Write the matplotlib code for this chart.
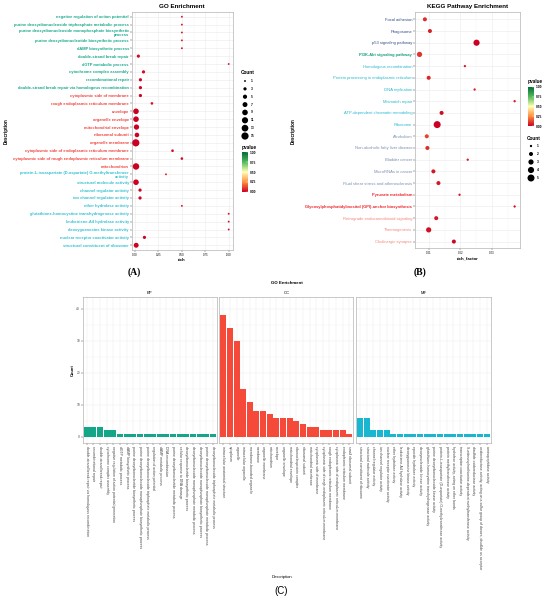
import numpy as np
import matplotlib
matplotlib.use('Agg')
import matplotlib.pyplot as plt
from matplotlib.colors import LinearSegmentedColormap

plt.rcParams['font.family'] = ['Liberation Sans', 'DejaVu Sans']

W, H = 550, 601

# ---------------- panel A: GO enrichment bubble data ----------------
go_terms = [
    'negative regulation of action potential',
    'purine deoxyribonucleoside triphosphate metabolic process',
    'purine deoxyribonucleoside monophosphate biosynthetic\nprocess',
    'purine deoxyribonucleotide biosynthetic process',
    'dAMP biosynthetic process',
    'double-strand break repair',
    'dGTP metabolic process',
    'cytochrome complex assembly',
    'recombinational repair',
    'double-strand break repair via homologous recombination',
    'cytoplasmic side of membrane',
    'rough endoplasmic reticulum membrane',
    'envelope',
    'organelle envelope',
    'mitochondrial envelope',
    'ribosomal subunit',
    'organelle membrane',
    'cytoplasmic side of endoplasmic reticulum membrane',
    'cytoplasmic side of rough endoplasmic reticulum membrane',
    'mitochondrion',
    'protein-L-isoaspartate (D-aspartate) O-methyltransferase\nactivity',
    'structural molecule activity',
    'channel regulator activity',
    'ion channel regulator activity',
    'ether hydrolase activity',
    'glutathione-homocystine transhydrogenase activity',
    'leukotriene-A4 hydrolase activity',
    'deoxyguanosine kinase activity',
    'nuclear receptor coactivator activity',
    'structural constituent of ribosome',
]
go_class = ['BP'] * 10 + ['CC'] * 10 + ['MF'] * 10
go_rich = [0.5, 0.5, 0.5, 0.5, 0.5, 0.035, 1.0, 0.09, 0.057, 0.057,
           0.057, 0.18, 0.01, 0.01, 0.015, 0.02, 0.008, 0.40, 0.5, 0.01,
           0.33, 0.01, 0.053, 0.053, 0.5, 1.0, 1.0, 1.0, 0.10, 0.012]
go_count = [1, 1, 1, 1, 1, 3, 1, 3, 3, 3,
            3, 2, 9, 9, 8, 6, 15, 2, 2, 12,
            1, 9, 3, 3, 1, 1, 1, 1, 3, 7]
go_pvalue = [0.04, 0.04, 0.04, 0.04, 0.04, 0.02, 0.04, 0.02, 0.01, 0.01,
             0.01, 0.03, 0.002, 0.002, 0.003, 0.005, 0.001, 0.02, 0.02, 0.001,
             0.05, 0.002, 0.01, 0.01, 0.04, 0.03, 0.03, 0.03, 0.01, 0.004]
go_size_breaks = [1, 3, 5, 7, 9, 11, 13, 15]

# ---------------- panel B: KEGG bubble data ----------------
kegg_terms = [
    'Focal adhesion', 'Phagosome', 'p53 signaling pathway',
    'PI3K-Akt signaling pathway', 'Homologous recombination',
    'Protein processing in endoplasmic reticulum', 'DNA replication',
    'Mismatch repair', 'ATP-dependent chromatin remodeling', 'Ribosome',
    'Alcoholism', 'Non-alcoholic fatty liver disease', 'Bladder cancer',
    'MicroRNAs in cancer', 'Fluid shear stress and atherosclerosis',
    'Pyruvate metabolism',
    'Glycosylphosphatidylinositol (GPI)-anchor biosynthesis',
    'Retrograde endocannabinoid signaling', 'Thermogenesis',
    'Cholinergic synapse',
]
kegg_group = (['cell'] * 3 + ['env'] * 1 + ['gen'] * 6 + ['dis'] * 5
              + ['met'] * 2 + ['org'] * 3)
kegg_rich = [0.0087, 0.0103, 0.0251, 0.0070, 0.0214, 0.0099, 0.0245, 0.0372,
             0.0140, 0.0126, 0.0093, 0.0095, 0.0223, 0.0114, 0.0130, 0.0197,
             0.0372, 0.0123, 0.0099, 0.0179]
kegg_count = [2, 2, 4, 3, 1, 2, 1, 1, 2, 5, 2, 2, 1, 2, 2, 1, 1, 2, 3, 2]
kegg_pvalue = [0.08, 0.06, 0.003, 0.09, 0.05, 0.07, 0.05, 0.04, 0.02, 0.001,
               0.12, 0.08, 0.05, 0.04, 0.04, 0.05, 0.03, 0.04, 0.03, 0.01]
kegg_size_breaks = [1, 2, 3, 4, 5]

# ---------------- panel C: GO bar data ----------------
bp_terms = [
    'double-strand break repair via homologous recombination',
    'recombinational repair',
    'double-strand break repair',
    'cytochrome complex assembly',
    'negative regulation of action potential generation',
    'dGTP metabolic process',
    'dAMP biosynthetic process',
    'purine deoxyribonucleotide biosynthetic process',
    'purine deoxyribonucleoside monophosphate biosynthetic process',
    'purine deoxyribonucleoside triphosphate metabolic process',
    'regulation of action potential',
    'dAMP metabolic process',
    'DNA recombination',
    'purine deoxyribonucleotide metabolic process',
    'cellular response to DNA damage',
    'deoxyribonucleotide biosynthetic process',
    'deoxyribonucleoside monophosphate metabolic process',
    'deoxyribonucleoside monophosphate biosynthetic process',
    'purine deoxyribonucleoside monophosphate metabolic process',
    'deoxyribonucleoside triphosphate metabolic process',
]
bp_count = [3, 3, 3, 2, 2, 1, 1, 1, 1, 1, 1, 1, 1, 1, 1, 1, 1, 1, 1, 1]

cc_terms = [
    'intracellular anatomical structure',
    'cytoplasm',
    'organelle',
    'intracellular organelle',
    'membrane-bounded organelle',
    'membrane',
    'organelle membrane',
    'mitochondrion',
    'envelope',
    'organelle envelope',
    'mitochondrial envelope',
    'ribonucleoprotein complex',
    'ribosomal subunit',
    'mitochondrial membrane',
    'cytoplasmic side of membrane',
    'cytoplasmic side of rough endoplasmic reticulum membrane',
    'rough endoplasmic reticulum membrane',
    'cytoplasmic side of endoplasmic reticulum membrane',
    'endoplasmic reticulum membrane',
    'small ribosomal subunit',
]
cc_count = [38, 34, 30, 15, 11, 8, 8, 7, 6, 6, 6, 5, 4, 3, 3, 2, 2, 2, 2, 1]

mf_terms = [
    'structural constituent of ribosome',
    'structural molecule activity',
    'channel regulator activity',
    'ion channel regulator activity',
    'nuclear receptor coactivator activity',
    'ether hydrolase activity',
    'leukotriene-A4 hydrolase activity',
    'deoxyguanosine kinase activity',
    'epoxide hydrolase activity',
    'deoxynucleoside kinase activity',
    'glutathione-homocystine transhydrogenase activity',
    'purine deoxyribonucleoside kinase activity',
    'protein-L-isoaspartate (D-aspartate) O-methyltransferase activity',
    'protein methyltransferase activity',
    'hydrolase activity, acting on ether bonds',
    'transcription coactivator activity',
    'S-adenosylmethionine-dependent methyltransferase activity',
    'disulfide oxidoreductase activity',
    'oxidoreductase activity, acting on a sulfur group of donors, disulfide as acceptor',
    'aminopeptidase activity',
]
mf_count = [6, 6, 2, 2, 2, 1, 1, 1, 1, 1, 1, 1, 1, 1, 1, 1, 1, 1, 1, 1]

# ---------------- styles ----------------
go_label_colors = {'BP': '#19aa8b', 'CC': '#f2433d', 'MF': '#33c1d3'}
bar_colors = {'BP': '#14a689', 'CC': '#f5493a', 'MF': '#19b6d2'}
kegg_label_style = {
    'cell': ('#2f4c86', 'normal'),
    'env': ('#0f9f7c', 'bold'),
    'gen': ('#27b9d1', 'normal'),
    'dis': ('#7c8fb4', 'normal'),
    'met': ('#ee2429', 'bold'),
    'org': ('#f3877c', 'normal'),
}
pcmap = LinearSegmentedColormap.from_list(
    'pv', [(0, '#cc0022'), (0.25, '#ff8f40'), (0.5, '#ffffb5'),
           (0.75, '#52b95b'), (1, '#006b37')])
GRID = '#ebebeb'
BORDER = '#b3b3b3'


def px_rect(x0, y0, x1, y1):
    return [x0 / W, 1 - y1 / H, (x1 - x0) / W, (y1 - y0) / H]


def ftext(x, y, s, **kw):
    kw.setdefault('ha', 'center')
    kw.setdefault('va', 'center')
    return fig.text(x / W, 1 - y / H, s, **kw)


def style_axes(ax):
    for sp in ax.spines.values():
        sp.set_color(BORDER)
        sp.set_linewidth(0.5)
    ax.set_axisbelow(True)
    ax.tick_params(length=1.2, width=0.3, color='#333333', pad=0.8)
    ax.tick_params(which='minor', length=0)


def size_legend(x_circle, x_label, y_first, spacing, breaks, sfun, title, title_y):
    n = len(breaks)
    lax = fig.add_axes(px_rect(x_circle - 6, y_first - spacing / 2,
                               x_circle + 20, y_first + (n - 0.5) * spacing))
    lax.set_xlim(x_circle - 6, x_circle + 20)
    lax.set_ylim(n - 0.5, -0.5)
    lax.axis('off')
    lax.scatter([x_circle] * n, range(n), s=[sfun(b) for b in breaks],
                color='black', edgecolors='none')
    for i, b in enumerate(breaks):
        lax.text(x_label, i, str(b), fontsize=2.3, fontweight='bold',
                 ha='left', va='center')
    ftext(x_circle - 4, title_y, title, fontsize=3.4, fontweight='bold', ha='left')


def p_colorbar(sc, x0, y0, x1, y1, title_y):
    cax = fig.add_axes(px_rect(x0, y0, x1, y1))
    cb = fig.colorbar(sc, cax=cax)
    cb.set_ticks([0, 0.25, 0.5, 0.75, 1.0])
    cb.ax.set_yticklabels(['0.00', '0.25', '0.50', '0.75', '1.00'],
                          fontsize=2.3, fontweight='bold')
    cb.outline.set_visible(False)
    cb.ax.tick_params(length=1.2, width=0.3, color='white', direction='in', pad=1)
    ftext(x0 - 0.5, title_y, 'pvalue', fontsize=3.4, fontweight='bold', ha='left')


fig = plt.figure(figsize=(W / 100, H / 100), dpi=100)

# ================= panel A =================
axA = fig.add_axes(px_rect(131.7, 12, 233, 250))
nA = len(go_terms)
yA = np.arange(nA)[::-1]
go_s = [1.8 * c for c in go_count]
scA = axA.scatter(go_rich, yA, s=go_s, c=go_pvalue, cmap=pcmap, vmin=0, vmax=1,
                  edgecolors='none', zorder=3)
axA.set_xlim(-0.036, 1.046)
axA.set_ylim(-0.6, nA - 1 + 0.6)
axA.set_yticks(yA)
axA.set_yticklabels(go_terms, fontsize=2.85, fontweight='bold')
for lab, cls in zip(axA.get_yticklabels(), go_class):
    lab.set_color(go_label_colors[cls])
    lab.set_linespacing(0.9)
axA.set_xticks([0, 0.25, 0.5, 0.75, 1.0])
axA.set_xticklabels(['0.00', '0.25', '0.50', '0.75', '1.00'], fontsize=2.1)
axA.set_xticks([0.125, 0.375, 0.625, 0.875], minor=True)
axA.grid(True, which='major', color=GRID, lw=0.4)
axA.grid(True, which='minor', axis='x', color=GRID, lw=0.2)
style_axes(axA)
ftext(182, 6.7, 'GO Enrichment', fontsize=4.5, fontweight='bold')
ftext(182, 259.8, 'rich', fontsize=3.1, fontweight='bold')
ftext(6, 131, 'Description', fontsize=3.3, fontweight='bold', rotation=90)
ftext(134, 272.5, '(A)', fontsize=7, fontweight='bold', family='Liberation Serif')

size_legend(245, 250.5, 81, 7.86, go_size_breaks, lambda c: 1.8 * c, 'Count', 72)
p_colorbar(scA, 241.7, 152, 248.3, 192, 147)

# ================= panel B =================
axB = fig.add_axes(px_rect(415, 12.3, 520, 248))
nB = len(kegg_terms)
yB = np.arange(nB)[::-1]
kegg_s = [5.65 * c - 2.9 for c in kegg_count]
scB = axB.scatter(kegg_rich, yB, s=kegg_s, c=kegg_pvalue, cmap=pcmap, vmin=0, vmax=1,
                  edgecolors='none', zorder=3)
axB.set_xlim(0.00556, 0.0389)
axB.set_ylim(-0.55, nB - 1 + 0.6)
axB.set_yticks(yB)
axB.set_yticklabels(kegg_terms, fontsize=3.0)
for lab, grp in zip(axB.get_yticklabels(), kegg_group):
    col, wt = kegg_label_style[grp]
    lab.set_color(col)
    lab.set_fontweight(wt)
    if wt == 'bold':
        lab.set_fontsize(2.9)
axB.set_xticks([0.01, 0.02, 0.03])
axB.set_xticklabels(['0.01', '0.02', '0.03'], fontsize=2.1)
axB.set_xticks([0.015, 0.025, 0.035], minor=True)
axB.grid(True, which='major', color=GRID, lw=0.4)
axB.grid(True, which='minor', axis='x', color=GRID, lw=0.2)
style_axes(axB)
ftext(467.5, 6.7, 'KEGG Pathway Enrichment', fontsize=4.5, fontweight='bold')
ftext(467.5, 258.8, 'rich_factor', fontsize=3.1, fontweight='bold')
ftext(293, 131, 'Description', fontsize=3.3, fontweight='bold', rotation=90)
ftext(420, 272, '(B)', fontsize=7, fontweight='bold', family='Liberation Serif')

p_colorbar(scB, 527.7, 86.7, 534.3, 126, 82)
size_legend(531, 536.5, 146, 8, kegg_size_breaks, lambda c: 5.65 * c - 2.9, 'Count', 138)

# ================= panel C =================
facets = [('BP', bp_terms, bp_count, 82.7, 217.0),
          ('CC', cc_terms, cc_count, 219.3, 353.3),
          ('MF', mf_terms, mf_count, 356.0, 490.7)]
for k, (name, terms, counts, x0, x1) in enumerate(facets):
    ax = fig.add_axes(px_rect(x0, 297.3, x1, 443.3))
    xs = np.arange(1, len(terms) + 1)
    ax.bar(xs, counts, width=0.9, color=bar_colors[name], zorder=3)
    ax.set_xlim(0.4, len(terms) + 0.6)
    ax.set_ylim(-2.06, 43.56)
    ax.set_xticks(xs)
    ax.set_xticklabels(terms, rotation=-90, fontsize=2.5, color='#444444')
    ax.set_yticks([0, 10, 20, 30, 40])
    ax.set_yticks([5, 15, 25, 35], minor=True)
    ax.set_yticklabels(['0', '10', '20', '30', '40'], fontsize=2.3, color='#444444')
    ax.grid(True, which='major', color=GRID, lw=0.35)
    ax.grid(True, which='minor', axis='y', color=GRID, lw=0.2)
    style_axes(ax)
    if k > 0:
        ax.tick_params(axis='y', left=False, labelleft=False)
    ftext((x0 + x1) / 2, 292.5, name, fontsize=3)

ftext(286.7, 283, 'GO Enrichment', fontsize=3.2, fontweight='bold')
ftext(72.7, 370, 'Count', fontsize=3, fontweight='bold', rotation=90)
ftext(282, 576.7, 'Description', fontsize=3)
ftext(281, 591.5, '(C)', fontsize=7)

fig.savefig('out.png', dpi=100)
